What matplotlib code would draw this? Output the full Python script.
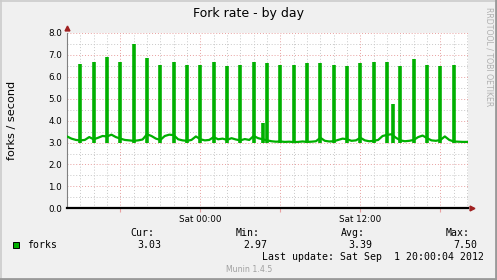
import matplotlib
matplotlib.use("Agg")
import matplotlib.pyplot as plt
from matplotlib.patches import Rectangle
from matplotlib.lines import Line2D
import numpy as np

# hours relative to Sat 00:00, sampled every 20 minutes
base_hours = np.arange(-600, 1201, 20) / 60.0
base_rate = [
    3.28, 3.18, 3.12, 3.10, 3.12, 3.25, 3.15, 3.22, 3.30, 3.28,
    3.36, 3.25, 3.18, 3.12, 3.10, 3.08, 3.10, 3.14, 3.38, 3.30,
    3.18, 3.12, 3.30, 3.36, 3.34, 3.15, 3.10, 3.08, 3.12, 3.28,
    3.15, 3.10, 3.12, 3.25, 3.15, 3.18, 3.12, 3.20, 3.14, 3.10,
    3.16, 3.12, 3.30, 3.20, 3.15, 3.10, 3.06, 3.04, 3.05, 3.03,
    3.04, 3.02, 3.03, 3.05, 3.03, 3.04, 3.06, 3.22, 3.08, 3.05,
    3.06, 3.12, 3.18, 3.15, 3.08, 3.10, 3.22, 3.10, 3.06, 3.08,
    3.12, 3.30, 3.35, 3.38, 3.22, 3.10, 3.06, 3.08, 3.12, 3.25,
    3.32, 3.20, 3.10, 3.08, 3.12, 3.28, 3.12, 3.05, 3.04, 3.03,
    3.03,
]

# short fork bursts (mostly hourly)
spike_hours = list(range(-9, 20)) + [14.45, 4.7]
spike_peak = [
    6.59, 6.68, 6.91, 6.68, 7.50, 6.86, 6.55, 6.68, 6.55, 6.55,
    6.68, 6.50, 6.55, 6.68, 6.64, 6.55, 6.55, 6.64, 6.64, 6.55,
    6.50, 6.64, 6.68, 6.68, 6.50, 6.82, 6.55, 6.50, 6.55, 4.77,
    3.90,
]

major_hours = [-6, 0, 6, 12, 18]
major_labels = ["", "Sat 00:00", "", "Sat 12:00", ""]

stat_names = ["Cur:", "Min:", "Avg:", "Max:"]
stat_values = ["3.03", "2.97", "3.39", "7.50"]

W, H = 497, 280
green = "#00B000"
mono = "DejaVu Sans Mono"

fig = plt.figure(figsize=(W / 100, H / 100), dpi=100, facecolor="#F0F0F0")

def fx(px):
    return px / W

def fy(py):
    return 1 - py / H

ax = fig.add_axes([fx(67), fy(208.3), fx(468) - fx(67), fy(33) - fy(208.3)])
ax.set_facecolor("white")

ax.set_xlim(-10, 20.07)
ax.set_ylim(0, 8)

ax.set_xticks(major_hours)
ax.set_xticklabels(major_labels)
ax.set_xticks(np.arange(-9, 21), minor=True)
ax.set_yticks(range(0, 9))
ax.set_yticklabels([f"{v:.1f}" for v in range(0, 9)])
ax.set_yticks(np.arange(0.5, 8, 1), minor=True)

ax.grid(which="minor", color="#C8C8C8", ls=(0, (1, 2)), lw=0.7)
ax.grid(which="major", color="#E8A0A0", ls=(0, (1, 2)), lw=0.7)
ax.set_axisbelow(True)

ax.tick_params(axis="x", which="major", length=3, color="#E8A0A0", labelsize=6.3, pad=2)
ax.tick_params(axis="x", which="minor", length=0)
ax.tick_params(axis="y", which="both", length=0, labelsize=6.3, pad=3.5)

for s in ["top", "right"]:
    ax.spines[s].set_visible(False)
ax.spines["left"].set_color("#808080")
ax.spines["left"].set_linewidth(0.8)
ax.spines["bottom"].set_color("black")
ax.spines["bottom"].set_linewidth(1.6)

ax.vlines(spike_hours, 3.0, spike_peak, color=green, lw=2.6, zorder=3)
ax.plot(base_hours, base_rate, color=green, lw=1.6, zorder=4)

# axis arrows
ax.plot([0], [1.03], marker="^", ms=3.5, color="#A02020", transform=ax.transAxes, clip_on=False)
ax.plot([1.01], [0], marker=">", ms=3.5, color="#A02020", transform=ax.transAxes, clip_on=False)

fig.text(0.5, fy(13), "Fork rate - by day", ha="center", va="center", fontsize=9)
fig.text(fx(12), fy(120), "forks / second", ha="center", va="center", rotation=90, fontsize=8.1)
fig.text(fx(489), fy(57), "RRDTOOL / TOBI OETIKER", ha="center", va="center",
         rotation=-90, fontsize=5.6, color="#B0B0B0")

# legend
fig.patches.append(Rectangle((fx(13), fy(248)), fx(6), 6 / H, facecolor=green,
                             edgecolor="black", lw=0.7, transform=fig.transFigure))
fig.text(fx(27), fy(245), "forks", ha="left", va="center", fontsize=7.1, family=mono)
name_right = [154, 260, 365, 470]
value_right = [161, 267, 372, 477]
for name, val, nr, vr in zip(stat_names, stat_values, name_right, value_right):
    fig.text(fx(nr), fy(233), name, ha="right", va="center", fontsize=7.1, family=mono)
    fig.text(fx(vr), fy(245), val, ha="right", va="center", fontsize=7.1, family=mono)
fig.text(fx(484), fy(257), "Last update: Sat Sep  1 20:00:04 2012", ha="right", va="center",
         fontsize=7.1, family=mono)
fig.text(fx(249), fy(269), "Munin 1.4.5", ha="center", va="center", fontsize=5.6, color="#A0A0A0")

# frame
fig.lines.append(Line2D([0, 1], [fy(0.5)] * 2, color="#CBCBCB", lw=1.2, transform=fig.transFigure))
fig.lines.append(Line2D([fx(0.5)] * 2, [0, 1], color="#CBCBCB", lw=1.2, transform=fig.transFigure))
fig.lines.append(Line2D([0, 1], [fy(279)] * 2, color="#999999", lw=2, transform=fig.transFigure))
fig.lines.append(Line2D([fx(496)] * 2, [0, 1], color="#999999", lw=2, transform=fig.transFigure))

fig.savefig("out.png", dpi=100, facecolor=fig.get_facecolor())
